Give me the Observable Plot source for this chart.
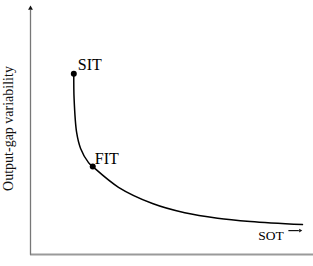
<!DOCTYPE html>
<html><head><meta charset="utf-8">
<script src="https://cdn.jsdelivr.net/npm/d3@7"></script>
<script src="https://cdn.jsdelivr.net/npm/@observablehq/plot@0.6"></script>
<style>html,body{margin:0;padding:0;background:#fff;}</style>
</head><body><div id="chart"></div>
<script>
// Stylised trade-off curve (abstract units 0-100)
const curveX = [15.3, 15.4, 16.3, 17.7, 20.5, 22.0, 31.1, 43.1, 54.5, 66.1, 77.7, 96.1];
const curveY = [72.6, 62.7, 49.0, 42.6, 36.9, 35.3, 27.0, 20.5, 16.8, 14.6, 13.3, 12.0];
const pointNames = ["SIT", "FIT"];
const pointX = [15.3, 22.0];
const pointY = [72.6, 35.3];
const yLabel = "Output-gap variability";
const sotLabel = "SOT";

const curve = curveX.map((x, i) => ({x, y: curveY[i]}));
const points = pointNames.map((n, i) => ({name: n, x: pointX[i], y: pointY[i]}));

const chart = Plot.plot({
  width: 313, height: 266,
  marginLeft: 30, marginRight: 0, marginTop: 5, marginBottom: 12,
  x: {domain: [0, 100], axis: null},
  y: {domain: [0, 100], axis: null},
  style: {fontFamily: "'Liberation Serif', serif", background: "#fff"},
  marks: [
    Plot.ruleY([0], {stroke: "#9a9a9a", strokeWidth: 2}),
    Plot.ruleX([0], {y1: -0.3, y2: 98, stroke: "#777", strokeWidth: 1.3}),
    Plot.dot([{x: 0, y: 98.9}], {x: "x", y: "y", symbol: "triangle2", r: 2.3, fill: "#111"}),
    Plot.line(curve, {x: "x", y: "y", curve: "catmull-rom", stroke: "#000", strokeWidth: 1.5}),
    Plot.dot(points, {x: "x", y: "y", r: 3, fill: "#000"}),
    Plot.text(points.slice(0,1), {x: "x", y: "y", text: "name", textAnchor: "start", lineAnchor: "bottom", dx: 4, dy: -4, fontSize: 16, fill: "#000"}),
    Plot.text(points.slice(1), {x: "x", y: "y", text: "name", textAnchor: "start", lineAnchor: "bottom", dx: 2, dy: -3, fontSize: 16, fill: "#000"}),
    Plot.text([sotLabel], {x: 85, y: 7.6, text: d => d, textAnchor: "middle", lineAnchor: "middle", fontSize: 13.5, fill: "#000"}),
    Plot.ruleY([9.6], {x1: 91.3, x2: 95.0, stroke: "#111", strokeWidth: 1.2}),
    Plot.dot([{x: 95.3, y: 9.6}], {x: "x", y: "y", symbol: "triangle2", r: 1.7, rotate: 90, fill: "#111"}),
    Plot.text([yLabel], {x: 0, y: 50.6, text: d => d, rotate: -90, dx: -22, textAnchor: "middle", lineAnchor: "middle", fontSize: 14, fill: "#111"})
  ]
});
document.getElementById("chart").appendChild(chart);
</script>
</body></html>
